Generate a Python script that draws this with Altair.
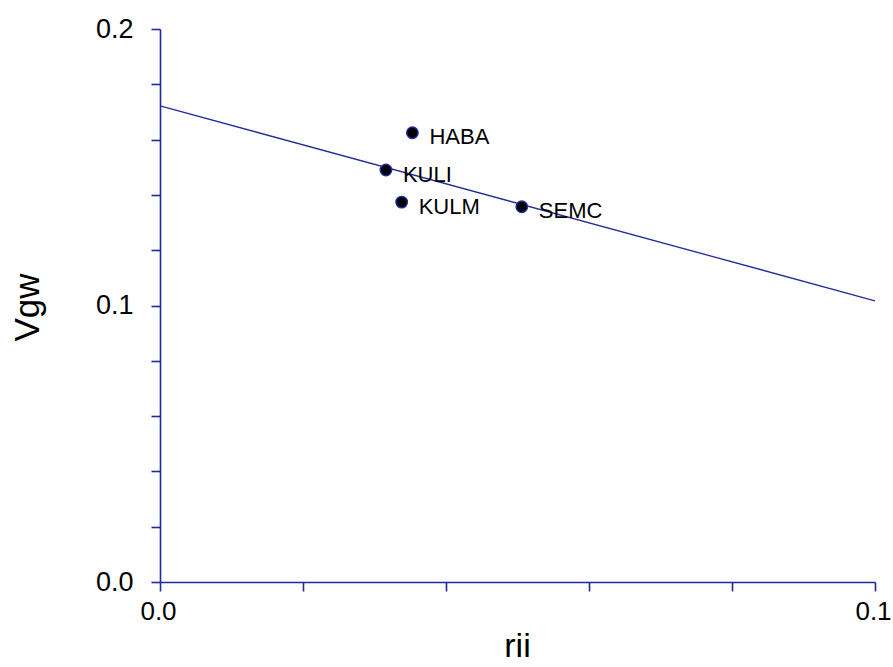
import altair as alt
import pandas as pd

# Data
labels = ["HABA", "KULI", "KULM", "SEMC"]
rii = [0.0353, 0.0316, 0.0338, 0.0506]
vgw = [0.1625, 0.1490, 0.1374, 0.1357]

line_x = [0.0, 0.1]
line_y = [0.1722, 0.1017]

x_ticks = [0.0, 0.02, 0.04, 0.06, 0.08, 0.1]
y_ticks = [0.0, 0.02, 0.04, 0.06, 0.08, 0.1, 0.12, 0.14, 0.16, 0.18, 0.2]

NAVY = "#1f2a9c"
FONT = "Liberation Sans"

pts = pd.DataFrame({"label": labels, "rii": rii, "vgw": vgw})
ln = pd.DataFrame({"rii": line_x, "vgw": line_y})

label_expr = "(abs(datum.value*10 - round(datum.value*10)) < 1e-6) ? format(datum.value, '.1f') : ''"

x_scale = alt.Scale(domain=[0, 0.1], nice=False, zero=False)
y_scale = alt.Scale(domain=[0, 0.2], nice=False, zero=False)

x_axis = alt.Axis(
    values=x_ticks, labelExpr=label_expr, grid=False,
    domainColor=NAVY, domainWidth=1.6, tickColor=NAVY, tickWidth=1.6, tickSize=9,
    labelFont=FONT, labelFontSize=26, labelColor="black", labelPadding=7,
    labelOffset=-2, labelFlush=False, labelOverlap=False,
    title="rii", titleFont=FONT, titleFontSize=34, titleFontWeight="normal",
    titleColor="black", titleX=357, titleY=74, titleAlign="center",
    titleBaseline="alphabetic",
)
y_axis = alt.Axis(
    values=y_ticks, labelExpr=label_expr, grid=False,
    domainColor=NAVY, domainWidth=1.6, tickColor=NAVY, tickWidth=1.6, tickSize=9,
    labelFont=FONT, labelFontSize=27, labelColor="black", labelPadding=18,
    labelFlush=False, labelOverlap=False,
    title="Vgw", titleFont=FONT, titleFontSize=35, titleFontWeight="normal",
    titleColor="black", titleX=-133, titleY=278, titleAngle=270,
    titleAlign="center", titleBaseline="middle",
)

line = alt.Chart(ln).mark_line(color=NAVY, strokeWidth=1.3, clip=True).encode(
    x=alt.X("rii:Q", scale=x_scale, axis=x_axis),
    y=alt.Y("vgw:Q", scale=y_scale, axis=y_axis),
)

points = alt.Chart(pts).mark_circle(
    size=130, color="black", opacity=1, stroke=NAVY, strokeWidth=1.5
).encode(
    x=alt.X("rii:Q", scale=x_scale),
    y=alt.Y("vgw:Q", scale=y_scale),
)

text = alt.Chart(pts).mark_text(
    align="left", baseline="alphabetic", dx=17, dy=11.5,
    font=FONT, fontSize=22, color="black"
).encode(
    x=alt.X("rii:Q", scale=x_scale),
    y=alt.Y("vgw:Q", scale=y_scale),
    text="label:N",
)

chart = alt.layer(line, points, text).properties(
    width=715, height=553,
    autosize=alt.AutoSizeParams(type="none"),
    padding={"left": 160, "top": 29, "right": 18, "bottom": 85},
    background="white",
).configure_view(stroke=None)

chart.save("out.html", embed_options={"renderer": "svg", "actions": False})
